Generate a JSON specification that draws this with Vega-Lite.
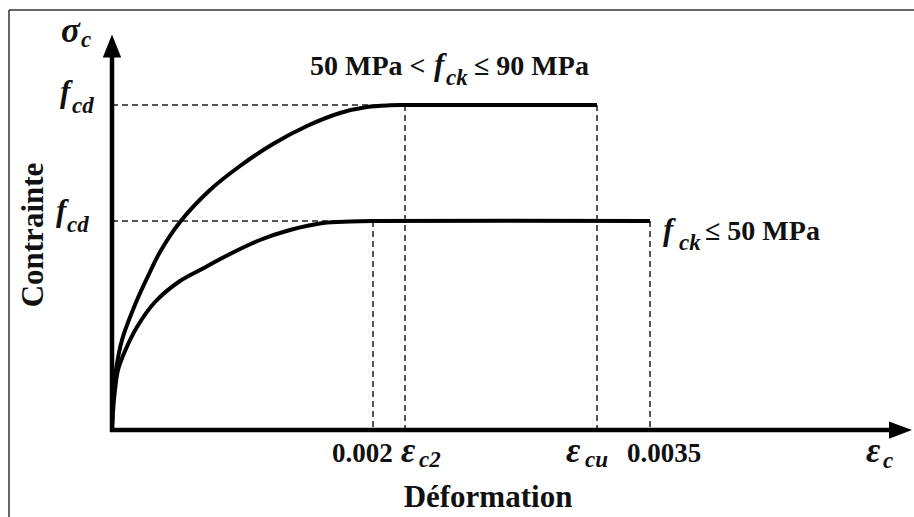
{
  "$schema": "https://vega.github.io/schema/vega-lite/v6.json",
  "width": 914,
  "height": 517,
  "padding": 0,
  "autosize": {"type": "none"},
  "background": "white",
  "config": {"view": {"stroke": null}},
  "datasets": {
    "curves": [
      {"curve": "high", "i": 0, "e": 0, "s": 0},
      {"curve": "high", "i": 1, "e": 0.005, "s": 0.2},
      {"curve": "high", "i": 2, "e": 0.015, "s": 0.35},
      {"curve": "high", "i": 3, "e": 0.04, "s": 0.6},
      {"curve": "high", "i": 4, "e": 0.1, "s": 0.9},
      {"curve": "high", "i": 5, "e": 0.25, "s": 1.3},
      {"curve": "high", "i": 6, "e": 0.38, "s": 1.58},
      {"curve": "high", "i": 7, "e": 0.48, "s": 1.78},
      {"curve": "high", "i": 8, "e": 0.68, "s": 2.08},
      {"curve": "high", "i": 9, "e": 0.98, "s": 2.4},
      {"curve": "high", "i": 10, "e": 1.28, "s": 2.64},
      {"curve": "high", "i": 11, "e": 1.61, "s": 2.86},
      {"curve": "high", "i": 12, "e": 1.95, "s": 3.04},
      {"curve": "high", "i": 13, "e": 2.28, "s": 3.17},
      {"curve": "high", "i": 14, "e": 2.55, "s": 3.23},
      {"curve": "high", "i": 15, "e": 2.78, "s": 3.247},
      {"curve": "high", "i": 16, "e": 2.93, "s": 3.25},
      {"curve": "high", "i": 17, "e": 4.85, "s": 3.25},
      {"curve": "low", "i": 0, "e": 0, "s": 0},
      {"curve": "low", "i": 1, "e": 0.015, "s": 0.25},
      {"curve": "low", "i": 2, "e": 0.03, "s": 0.4},
      {"curve": "low", "i": 3, "e": 0.06, "s": 0.6},
      {"curve": "low", "i": 4, "e": 0.13, "s": 0.79},
      {"curve": "low", "i": 5, "e": 0.25, "s": 1.03},
      {"curve": "low", "i": 6, "e": 0.43, "s": 1.28},
      {"curve": "low", "i": 7, "e": 0.68, "s": 1.49},
      {"curve": "low", "i": 8, "e": 0.88, "s": 1.6},
      {"curve": "low", "i": 9, "e": 1.18, "s": 1.76},
      {"curve": "low", "i": 10, "e": 1.48, "s": 1.9},
      {"curve": "low", "i": 11, "e": 1.78, "s": 2.0},
      {"curve": "low", "i": 12, "e": 2.11, "s": 2.07},
      {"curve": "low", "i": 13, "e": 2.38, "s": 2.085},
      {"curve": "low", "i": 14, "e": 2.61, "s": 2.09},
      {"curve": "low", "i": 15, "e": 5.38, "s": 2.09}
    ],
    "guides": [
      {"e": 0, "e2": 2.93, "s": 3.25, "s2": 3.25},
      {"e": 0, "e2": 2.61, "s": 2.09, "s2": 2.09},
      {"e": 2.61, "e2": 2.61, "s": 2.09, "s2": 0},
      {"e": 2.93, "e2": 2.93, "s": 3.25, "s2": 0},
      {"e": 4.85, "e2": 4.85, "s": 3.25, "s2": 0},
      {"e": 5.38, "e2": 5.38, "s": 2.09, "s2": 0}
    ],
    "axes": [
      {"e": 0, "e2": 0, "s": -0.02, "s2": 3.74},
      {"e": -0.02, "e2": 7.78, "s": 0, "s2": 0}
    ],
    "frame": [
      {"e": -1.03, "e2": 8.02, "s": 4.2, "s2": 4.2},
      {"e": -1.03, "e2": -1.03, "s": 4.2, "s2": -0.87}
    ],
    "arrows": [
      {"dir": "up", "e": 0, "s": 3.84},
      {"dir": "right", "e": 7.885, "s": 0}
    ],
    "greek": [
      {"t": "σ", "e": -0.51, "s": 3.88},
      {"t": "ε", "e": 2.89, "s": -0.32},
      {"t": "ε", "e": 4.54, "s": -0.32},
      {"t": "ε", "e": 7.54, "s": -0.32}
    ],
    "symbols": [
      {"t": "f", "e": -0.52, "s": 3.28},
      {"t": "f", "e": -0.56, "s": 2.09},
      {"t": "f", "e": 3.22, "s": 3.55},
      {"t": "f", "e": 5.51, "s": 1.9}
    ],
    "subs": [
      {"t": "c", "e": -0.31, "s": 3.83},
      {"t": "cd", "e": -0.4, "s": 3.17},
      {"t": "cd", "e": -0.45, "s": 1.98},
      {"t": "c2", "e": 3.07, "s": -0.37},
      {"t": "cu", "e": 4.73, "s": -0.37},
      {"t": "c", "e": 7.71, "s": -0.38},
      {"t": "ck", "e": 3.34, "s": 3.45},
      {"t": "ck", "e": 5.67, "s": 1.8}
    ],
    "plain": [
      {"t": "50 MPa <", "e": 1.98, "s": 3.55},
      {"t": "≤ 90 MPa", "e": 3.62, "s": 3.55},
      {"t": "≤ 50 MPa", "e": 5.93, "s": 1.9}
    ],
    "ticks": [
      {"t": "0.002", "e": 2.2, "s": -0.32},
      {"t": "0.0035", "e": 5.15, "s": -0.32}
    ],
    "xtitle": [{"t": "Déformation", "e": 3.76, "s": -0.77}],
    "ytitle": [{"t": "Contrainte", "e": -0.69, "s": 1.95}]
  },
  "layer": [
    {
      "data": {"name": "frame"},
      "mark": {"type": "rule", "color": "#333333", "strokeWidth": 1.5},
      "encoding": {
        "x": {"field": "e", "type": "quantitative", "scale": {"domain": [-1.12, 8.02], "nice": false, "zero": false}, "axis": null},
        "x2": {"field": "e2"},
        "y": {"field": "s", "type": "quantitative", "scale": {"domain": [-0.87, 4.3], "nice": false, "zero": false}, "axis": null},
        "y2": {"field": "s2"}
      }
    },
    {
      "data": {"name": "guides"},
      "mark": {"type": "rule", "color": "#555555", "strokeWidth": 2, "strokeDash": [6, 4]},
      "encoding": {
        "x": {"field": "e", "type": "quantitative", "scale": {"domain": [-1.12, 8.02], "nice": false, "zero": false}, "axis": null},
        "x2": {"field": "e2"},
        "y": {"field": "s", "type": "quantitative", "scale": {"domain": [-0.87, 4.3], "nice": false, "zero": false}, "axis": null},
        "y2": {"field": "s2"}
      }
    },
    {
      "data": {"name": "curves"},
      "mark": {"type": "line", "color": "black", "strokeWidth": 4, "interpolate": "catmull-rom", "strokeJoin": "round"},
      "encoding": {
        "x": {"field": "e", "type": "quantitative", "scale": {"domain": [-1.12, 8.02], "nice": false, "zero": false}, "axis": null},
        "y": {"field": "s", "type": "quantitative", "scale": {"domain": [-0.87, 4.3], "nice": false, "zero": false}, "axis": null},
        "detail": {"field": "curve", "type": "nominal"},
        "order": {"field": "i", "type": "quantitative"}
      }
    },
    {
      "data": {"name": "axes"},
      "mark": {"type": "rule", "color": "black", "strokeWidth": 4.5},
      "encoding": {
        "x": {"field": "e", "type": "quantitative", "scale": {"domain": [-1.12, 8.02], "nice": false, "zero": false}, "axis": null},
        "x2": {"field": "e2"},
        "y": {"field": "s", "type": "quantitative", "scale": {"domain": [-0.87, 4.3], "nice": false, "zero": false}, "axis": null},
        "y2": {"field": "s2"}
      }
    },
    {
      "data": {"name": "arrows"},
      "mark": {"type": "point", "filled": true, "color": "black", "opacity": 1, "size": 529},
      "encoding": {
        "x": {"field": "e", "type": "quantitative", "scale": {"domain": [-1.12, 8.02], "nice": false, "zero": false}, "axis": null},
        "y": {"field": "s", "type": "quantitative", "scale": {"domain": [-0.87, 4.3], "nice": false, "zero": false}, "axis": null},
        "shape": {"field": "dir", "type": "nominal", "scale": {"domain": ["up", "right"], "range": ["M0,-1L-0.8,1L0.8,1Z", "M1,0L-1,-0.75L-1,0.75Z"]}, "legend": null}
      }
    },
    {
      "data": {"name": "greek"},
      "mark": {"type": "text", "font": "Liberation Serif", "fontWeight": "bold", "fontStyle": "italic", "fontSize": 35, "align": "left", "baseline": "alphabetic", "color": "#111111"},
      "encoding": {
        "x": {"field": "e", "type": "quantitative", "scale": {"domain": [-1.12, 8.02], "nice": false, "zero": false}, "axis": null},
        "y": {"field": "s", "type": "quantitative", "scale": {"domain": [-0.87, 4.3], "nice": false, "zero": false}, "axis": null},
        "text": {"field": "t"}
      }
    },
    {
      "data": {"name": "symbols"},
      "mark": {"type": "text", "font": "Liberation Serif", "fontWeight": "bold", "fontStyle": "italic", "fontSize": 31, "align": "left", "baseline": "alphabetic", "color": "#111111"},
      "encoding": {
        "x": {"field": "e", "type": "quantitative", "scale": {"domain": [-1.12, 8.02], "nice": false, "zero": false}, "axis": null},
        "y": {"field": "s", "type": "quantitative", "scale": {"domain": [-0.87, 4.3], "nice": false, "zero": false}, "axis": null},
        "text": {"field": "t"}
      }
    },
    {
      "data": {"name": "subs"},
      "mark": {"type": "text", "font": "Liberation Serif", "fontWeight": "bold", "fontStyle": "italic", "fontSize": 23, "align": "left", "baseline": "alphabetic", "color": "#111111"},
      "encoding": {
        "x": {"field": "e", "type": "quantitative", "scale": {"domain": [-1.12, 8.02], "nice": false, "zero": false}, "axis": null},
        "y": {"field": "s", "type": "quantitative", "scale": {"domain": [-0.87, 4.3], "nice": false, "zero": false}, "axis": null},
        "text": {"field": "t"}
      }
    },
    {
      "data": {"name": "plain"},
      "mark": {"type": "text", "font": "Liberation Serif", "fontWeight": "bold", "fontSize": 28, "align": "left", "baseline": "alphabetic", "color": "#111111"},
      "encoding": {
        "x": {"field": "e", "type": "quantitative", "scale": {"domain": [-1.12, 8.02], "nice": false, "zero": false}, "axis": null},
        "y": {"field": "s", "type": "quantitative", "scale": {"domain": [-0.87, 4.3], "nice": false, "zero": false}, "axis": null},
        "text": {"field": "t"}
      }
    },
    {
      "data": {"name": "ticks"},
      "mark": {"type": "text", "font": "Liberation Serif", "fontWeight": "bold", "fontSize": 27, "align": "left", "baseline": "alphabetic", "color": "#111111"},
      "encoding": {
        "x": {"field": "e", "type": "quantitative", "scale": {"domain": [-1.12, 8.02], "nice": false, "zero": false}, "axis": null},
        "y": {"field": "s", "type": "quantitative", "scale": {"domain": [-0.87, 4.3], "nice": false, "zero": false}, "axis": null},
        "text": {"field": "t"}
      }
    },
    {
      "data": {"name": "xtitle"},
      "mark": {"type": "text", "font": "Liberation Serif", "fontWeight": "bold", "fontSize": 31, "align": "center", "baseline": "alphabetic", "color": "#111111"},
      "encoding": {
        "x": {"field": "e", "type": "quantitative", "scale": {"domain": [-1.12, 8.02], "nice": false, "zero": false}, "axis": null},
        "y": {"field": "s", "type": "quantitative", "scale": {"domain": [-0.87, 4.3], "nice": false, "zero": false}, "axis": null},
        "text": {"field": "t"}
      }
    },
    {
      "data": {"name": "ytitle"},
      "mark": {"type": "text", "font": "Liberation Serif", "fontWeight": "bold", "fontSize": 31, "align": "center", "baseline": "alphabetic", "angle": 270, "color": "#111111"},
      "encoding": {
        "x": {"field": "e", "type": "quantitative", "scale": {"domain": [-1.12, 8.02], "nice": false, "zero": false}, "axis": null},
        "y": {"field": "s", "type": "quantitative", "scale": {"domain": [-0.87, 4.3], "nice": false, "zero": false}, "axis": null},
        "text": {"field": "t"}
      }
    }
  ]
}
